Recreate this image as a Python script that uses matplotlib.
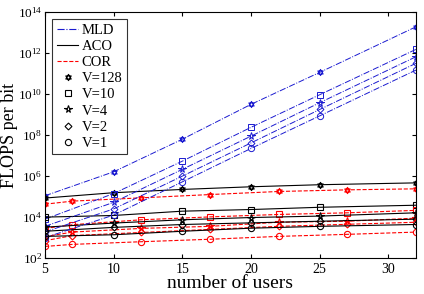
import matplotlib
matplotlib.use("Agg")
import matplotlib.pyplot as plt
import numpy as np
from matplotlib.path import Path
from matplotlib.lines import Line2D

plt.rcParams['font.family'] = ['Liberation Serif', 'DejaVu Serif']
plt.rcParams['mathtext.fontset'] = 'stix'

# log10 of FLOPS per bit
users_mld = [5, 10, 15, 20, 25, 32]
users_aco = [5, 10, 15, 20, 25, 32]
users_cor = [5, 7, 12, 17, 22, 27, 32]

V_labels = ['V=128', 'V=10', 'V=4', 'V=2', 'V=1']

mld_log = {
    'V=128': [5.04, 6.21, 7.80, 9.50, 11.06, 13.28],
    'V=10': [3.90, 5.15, 6.73, 8.38, 9.97, 12.18],
    'V=4': [3.55, 4.72, 6.33, 7.95, 9.58, 11.82],
    'V=2': [3.28, 4.40, 6.00, 7.62, 9.25, 11.50],
    'V=1': [3.00, 4.10, 5.72, 7.35, 8.94, 11.17],
}
aco_log = {
    'V=128': [4.93, 5.19, 5.35, 5.48, 5.58, 5.67],
    'V=10': [4.00, 4.08, 4.29, 4.37, 4.48, 4.58],
    'V=4': [3.51, 3.71, 3.87, 3.98, 4.05, 4.21],
    'V=2': [3.31, 3.50, 3.64, 3.72, 3.80, 3.90],
    'V=1': [3.06, 3.14, 3.31, 3.46, 3.55, 3.64],
}
cor_log = {
    'V=128': [4.63, 4.78, 4.94, 5.10, 5.25, 5.33, 5.38],
    'V=10': [3.45, 3.63, 3.87, 4.01, 4.13, 4.21, 4.33],
    'V=4': [3.05, 3.27, 3.45, 3.55, 3.75, 3.80, 3.95],
    'V=2': [2.85, 3.10, 3.25, 3.40, 3.55, 3.65, 3.75],
    'V=1': [2.57, 2.67, 2.80, 2.92, 3.06, 3.16, 3.27],
}

# hexagram marker (two triangles)
tri_up = [(0, 1), (0.866, -0.5), (-0.866, -0.5), (0, 1)]
tri_dn = [(0, -1), (0.866, 0.5), (-0.866, 0.5), (0, -1)]
hexagram = Path(tri_up + tri_dn,
                [Path.MOVETO, Path.LINETO, Path.LINETO, Path.CLOSEPOLY] * 2)

markers = {'V=128': hexagram, 'V=10': 's', 'V=4': '*', 'V=2': 'D', 'V=1': 'o'}
msizes = {'V=128': 4.5, 'V=10': 4, 'V=4': 5.5, 'V=2': 3.5, 'V=1': 4.5}

fig = plt.figure(figsize=(4.24, 2.94), dpi=100)
ax = fig.add_axes([0.106, 0.122, 0.875, 0.837])

for v in V_labels:
    ax.plot(users_mld, 10 ** np.array(mld_log[v]), color='#1a1ad0', ls='-.', lw=0.7,
            marker=markers[v], ms=msizes[v], mfc='none', mew=0.7)
    ax.plot(users_aco, 10 ** np.array(aco_log[v]), color='black', ls='-', lw=0.8,
            marker=markers[v], ms=msizes[v], mfc='none', mew=0.8)
    ax.plot(users_cor, 10 ** np.array(cor_log[v]), color='red', ls='--', lw=0.8,
            marker=markers[v], ms=msizes[v], mfc='none', mew=0.8)

ax.set_yscale('log')
ax.set_xlim(5, 32)
ax.set_ylim(1e2, 1e14)
ax.set_xticks([5, 10, 15, 20, 25, 30])
ax.set_yticks([10.0 ** k for k in range(2, 15, 2)])
ax.yaxis.set_minor_locator(matplotlib.ticker.NullLocator())
ax.tick_params(direction='in', top=True, right=True, labelsize=10, length=3)
ax.tick_params(axis='y', labelsize=9.5, pad=2)
ax.set_xlabel('number of users', fontsize=14, labelpad=-1)
ax.set_ylabel('FLOPS per bit', fontsize=13)
ax.yaxis.set_label_coords(-0.072, 0.5)

handles = [
    Line2D([], [], color='#1a1ad0', ls='-.', lw=0.8),
    Line2D([], [], color='black', ls='-', lw=0.8),
    Line2D([], [], color='red', ls='--', lw=0.8),
]
names = ['MLD', 'ACO', 'COR']
for v in V_labels:
    handles.append(Line2D([], [], color='black', ls='none', marker=markers[v],
                          ms=msizes[v], mfc='none', mew=0.8))
    names.append(v)
leg = ax.legend(handles, names, loc='upper left', fontsize=10.5, frameon=True,
                fancybox=False, edgecolor='black', handlelength=1.5,
                handletextpad=0.2, labelspacing=0.2, borderpad=0.3,
                borderaxespad=0.5)
leg.get_frame().set_linewidth(0.8)

fig.savefig('out.png', dpi=100)
